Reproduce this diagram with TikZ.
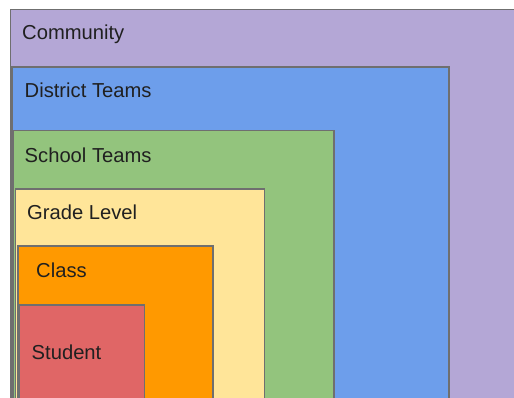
\documentclass[tikz,border=0pt]{standalone}
\usepackage{fontspec}
\setmainfont{Liberation Sans}
\definecolor{cComm}{HTML}{B4A7D6}
\definecolor{cDist}{HTML}{6D9EEB}
\definecolor{cSchool}{HTML}{93C47D}
\definecolor{cGrade}{HTML}{FFE599}
\definecolor{cClass}{HTML}{FF9900}
\definecolor{cStud}{HTML}{E06666}
\definecolor{cEdge}{HTML}{6F6F6F}
\definecolor{cText}{HTML}{202020}
\begin{document}
\begin{tikzpicture}[x=1pt,y=-1pt,
  layer/.style={draw=cEdge, line width=1.2pt, anchor=north west, inner sep=0pt, outer sep=0pt},
  lbl/.style={anchor=base west, inner sep=0pt, text=cText, font=\fontsize{20.2}{24}\selectfont}]
\useasboundingbox (0,0) rectangle (514,398);
\clip (0,0) rectangle (514,398);
\fill[white] (0,0) rectangle (514,398);
\node[layer, fill=cComm, minimum width=560pt, minimum height=450pt] (community) at (10.5,9.5) {};
\node[layer, fill=cDist, minimum width=437pt, minimum height=400pt] (district) at (12,67) {};
\node[layer, fill=cSchool, minimum width=321pt, minimum height=330pt] (school) at (13,130.5) {};
\node[layer, fill=cGrade, minimum width=249pt, minimum height=260pt] (grade) at (15.5,189) {};
\node[layer, fill=cClass, minimum width=195pt, minimum height=200pt] (class) at (18,246) {};
\node[layer, fill=cStud, minimum width=125pt, minimum height=150pt] (student) at (19.5,305) {};
\node[lbl] (tcomm) at (22,40) {Community};
\node[lbl] (tdist) at (24.5,98) {District Teams};
\node[lbl] (tschool) at (24.5,163) {School Teams};
\node[lbl] (tgrade) at (27,220) {Grade Level};
\node[lbl] (tclass) at (36,277) {Class};
\node[lbl] (tstud) at (31.5,359.5) {Student};
\end{tikzpicture}
\end{document}
